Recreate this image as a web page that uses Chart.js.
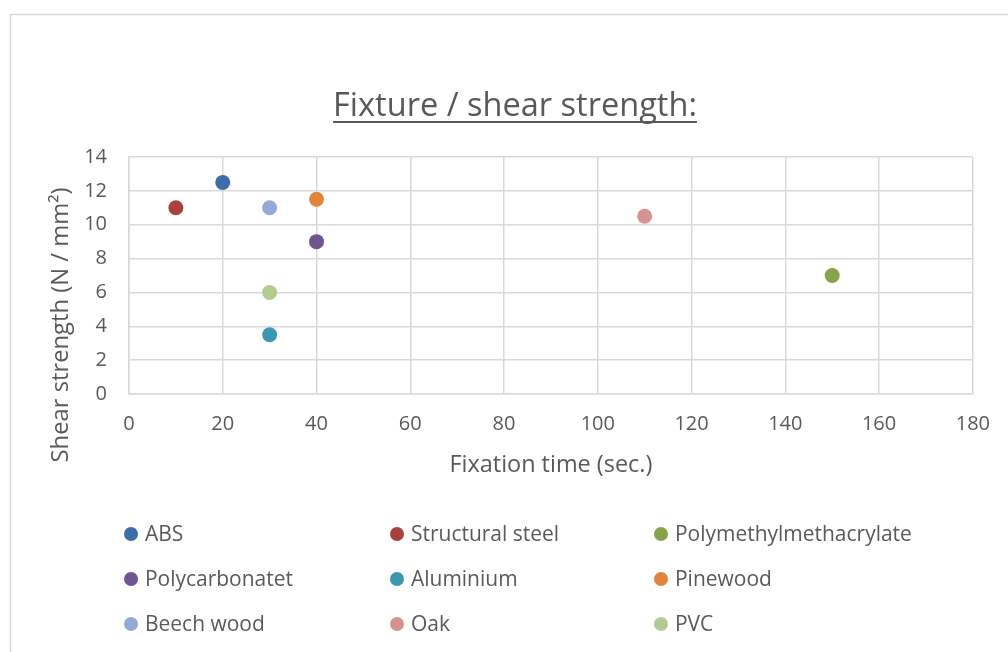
<!DOCTYPE html>
<html>
<head>
<meta charset="utf-8">
<script src="https://cdn.jsdelivr.net/npm/chart.js@4/dist/chart.umd.min.js"></script>
<style>
  html, body { margin: 0; padding: 0; background: #ffffff; }
  #wrap { width: 1008px; height: 652px; position: relative; }
</style>
</head>
<body>
<div id="wrap"><canvas id="c"></canvas></div>
<script>
// ---- data ----
const materials = ["ABS", "Structural steel", "Polymethylmethacrylate",
                   "Polycarbonatet", "Aluminium", "Pinewood",
                   "Beech wood", "Oak", "PVC"];
const fixationTime  = [20, 10, 150, 40, 30, 40, 30, 110, 30];
const shearStrength = [12.5, 11, 7, 9, 3.5, 11.5, 11, 10.5, 6];
const xTickValues = [0, 20, 40, 60, 80, 100, 120, 140, 160, 180];
const yTickValues = [0, 2, 4, 6, 8, 10, 12, 14];
const chartTitle = "Fixture / shear strength:";
const xAxisTitle = "Fixation time (sec.)";
const yAxisTitle = "Shear strength (N / mm²)";

// ---- styles ----
const colors = ["#3E6CA9", "#A8403E", "#86A34A", "#6E5592", "#3B98B0",
                "#E2843C", "#93AAD6", "#D59291", "#B3CB8E"];
const textColor = "#595959";
const gridColor = "#D9D9D9";
const FONT = "'Open Sans', 'DejaVu Sans', sans-serif";

const datasets = materials.map((m, i) => ({
  label: m,
  data: [{ x: fixationTime[i], y: shearStrength[i] }],
  backgroundColor: colors[i],
  borderColor: colors[i],
  pointRadius: 7.5,
  pointHoverRadius: 7.5,
  borderWidth: 0
}));

function fitFont(ctx, text, targetWidth, base, weight) {
  ctx.font = (weight || "normal") + " " + base + "px " + FONT;
  const w = ctx.measureText(text).width;
  return base * targetWidth / w;
}

const decorPlugin = {
  id: "decor",
  beforeDraw(chart) {
    const ctx = chart.ctx;
    ctx.save();
    ctx.fillStyle = "#ffffff";
    ctx.fillRect(0, 0, chart.width, chart.height);
    ctx.strokeStyle = gridColor;
    ctx.lineWidth = 1.5;
    ctx.strokeRect(10.5, 14.5, chart.width + 20, chart.height + 20);
    ctx.restore();
  },
  afterDraw(chart) {
    const ctx = chart.ctx;
    ctx.save();
    ctx.fillStyle = textColor;
    ctx.strokeStyle = textColor;
    // title
    const ts = fitFont(ctx, chartTitle, 364, 30);
    ctx.font = "normal " + ts + "px " + FONT;
    ctx.textAlign = "center";
    ctx.textBaseline = "alphabetic";
    const tcx = 515;
    ctx.fillText(chartTitle, tcx, 116);
    const tw = ctx.measureText(chartTitle).width;
    ctx.lineWidth = 2;
    ctx.beginPath();
    ctx.moveTo(tcx - tw / 2, 122);
    ctx.lineTo(tcx + tw / 2, 122);
    ctx.stroke();

    // axis titles
    const xs = fitFont(ctx, xAxisTitle, 203, 20);
    ctx.font = "normal " + xs + "px " + FONT;
    ctx.textBaseline = "middle";
    const xa = chart.scales.x;
    ctx.fillText(xAxisTitle, (xa.left + xa.right) / 2, 465);

    const ys = fitFont(ctx, yAxisTitle, 275, 20);
    ctx.font = "normal " + ys + "px " + FONT;
    ctx.translate(61, 325);
    ctx.rotate(-Math.PI / 2);
    ctx.fillText(yAxisTitle, 0, 0);
    ctx.setTransform(1, 0, 0, 1, 0, 0);

    // legend (3 columns)
    const colX = [131, 397, 661];
    const rowY = [534, 579, 624];
    const ls = fitFont(ctx, "Polymethylmethacrylate", 237, 20);
    ctx.font = "normal " + ls + "px " + FONT;
    ctx.textAlign = "left";
    ctx.textBaseline = "middle";
    chart.data.datasets.forEach((ds, i) => {
      const cx = colX[i % 3], cy = rowY[Math.floor(i / 3)];
      ctx.fillStyle = ds.backgroundColor;
      ctx.beginPath();
      ctx.arc(cx, cy, 7, 0, Math.PI * 2);
      ctx.fill();
      ctx.fillStyle = textColor;
      ctx.fillText(ds.label, cx + 14, cy + 1);
    });
    ctx.restore();
  }
};

new Chart(document.getElementById("c"), {
  type: "scatter",
  data: { datasets },
  options: {
    responsive: true,
    maintainAspectRatio: false,
    animation: false,
    devicePixelRatio: 1,
    layout: { padding: { top: 157, right: 34, left: 0, bottom: 0 } },
    plugins: {
      legend: { display: false },
      title: { display: false },
      tooltip: { enabled: false }
    },
    scales: {
      x: {
        type: "linear",
        min: xTickValues[0],
        max: xTickValues[xTickValues.length - 1],
        afterBuildTicks: s => { s.ticks = xTickValues.map(v => ({ value: v })); },
        afterFit: s => { s.height = 258; },
        grid: { color: gridColor, lineWidth: 1.5, drawTicks: false },
        border: { color: gridColor, width: 1.5 },
        ticks: { color: textColor, font: { family: FONT, size: 20 }, padding: 18, maxRotation: 0 }
      },
      y: {
        type: "linear",
        min: yTickValues[0],
        max: yTickValues[yTickValues.length - 1],
        afterBuildTicks: s => { s.ticks = yTickValues.map(v => ({ value: v })); },
        afterFit: s => { s.width = 129; },
        grid: { color: gridColor, lineWidth: 1.5, drawTicks: false },
        border: { color: gridColor, width: 1.5 },
        ticks: { color: textColor, font: { family: FONT, size: 20 }, padding: 22 }
      }
    }
  },
  plugins: [decorPlugin]
});
</script>
</body>
</html>
